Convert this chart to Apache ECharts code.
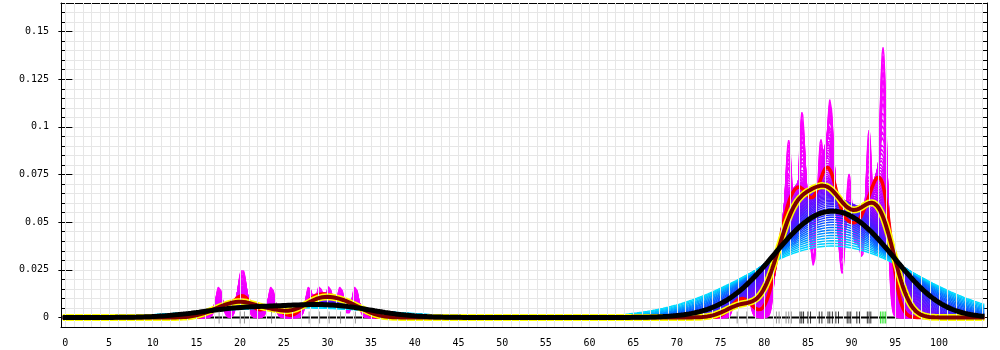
<!DOCTYPE html>
<html><head><meta charset="utf-8">
<script src="https://cdn.jsdelivr.net/npm/echarts@6/dist/echarts.min.js"></script>
<style>html,body{margin:0;padding:0;background:#fff}#c{width:1000px;height:350px}</style>
</head><body><div id="c"></div>
<script>
// ---- data ----
// observations shown in the rug, grouped by rug colour, with their relative weights
const leftObs     = [17.6, 20.0, 20.5, 23.6, 27.9, 29.1, 30.2, 31.5, 33.2];   // gray
const leftWeights = [1, 1, 1, 1, 1, 1, 1, 1, 1];
const tailObs     = [76.9, 78.0, 81.4, 81.7, 82.5, 82.8, 83.1];               // gray
const tailWeights = [1.0, 1.0, 1.2, 1.3, 2.2, 2.5, 2.3];
const coreObs     = [84.1, 84.3, 84.5, 85.0, 85.3, 86.3, 86.6, 87.3, 87.5, 87.8,
                     88.2, 88.5, 89.5, 89.7, 89.9, 90.6, 90.9, 91.8, 92.0, 92.2]; // black
const coreWeights = [2.3, 2.5, 2.2, 1.2, 1.3, 3.0, 3.0, 2.3, 3.0, 2.4,
                     1.2, 1.3, 1.7, 1.7, 1.6, 1.2, 1.3, 2.2, 2.2, 2.2];
const highObs     = [93.3, 93.5, 93.7, 93.9];                                 // green
const highWeights = [2.5, 2.7, 2.7, 2.4];
const unitMass = 0.0145;
// kernel bandwidths of the family of curves (magenta -> cyan)
const familyBandwidths = [
  0.350, 0.367, 0.384, 0.402, 0.421, 0.441, 0.462, 0.483, 0.506, 0.530,
  0.555, 0.581, 0.609, 0.638, 0.668, 0.699, 0.732, 0.767, 0.803, 0.841,
  0.881, 0.922, 0.966, 1.011, 1.059, 1.109, 1.162, 1.217, 1.274, 1.334,
  1.397, 1.463, 1.533, 1.605, 1.681, 1.760, 1.844, 1.931, 2.022, 2.118,
  2.218, 2.323, 2.432, 2.547, 2.668, 2.794, 2.926, 3.064, 3.209, 3.361,
  3.520, 3.686, 3.860, 4.043, 4.234, 4.434, 4.644, 4.863, 5.093, 5.334,
  5.586, 5.850, 6.127, 6.417, 6.720, 7.038, 7.370, 7.719, 8.084, 8.466];
const redBandwidth = 1.0;
const darkRedBandwidth = 1.7;
const blackBandwidth = 4.5;
// evaluation range of the curves
const evalStart = -0.3, evalEnd = 105.2, evalStep = 0.1;
// ticks and labels
const xTickValues = [0,5,10,15,20,25,30,35,40,45,50,55,60,65,70,75,80,85,90,95,100];
const xGridValues = [0,1,2,3,4,5,6,7,8,9,10,11,12,13,14,15,16,17,18,19,20,21,22,23,24,25,26,27,28,29,30,
  31,32,33,34,35,36,37,38,39,40,41,42,43,44,45,46,47,48,49,50,51,52,53,54,55,56,57,58,59,60,
  61,62,63,64,65,66,67,68,69,70,71,72,73,74,75,76,77,78,79,80,81,82,83,84,85,86,87,88,89,90,
  91,92,93,94,95,96,97,98,99,100,101,102,103,104,105];
const yTickValues = [0, 0.025, 0.05, 0.075, 0.1, 0.125, 0.15];
const yTickLabels = ['0', '0.025', '0.05', '0.075', '0.1', '0.125', '0.15'];

// ---- build ----
const obs = [];
[[leftObs, leftWeights], [tailObs, tailWeights], [coreObs, coreWeights], [highObs, highWeights]]
  .forEach(([vs, ws]) => vs.forEach((v, i) => obs.push({v, w: ws[i]})));
const nEval = Math.round((evalEnd - evalStart) / evalStep);
function kde(h) {
  const out = [];
  const norm = unitMass / (h * Math.sqrt(2 * Math.PI));
  for (let i = 0; i <= nEval; i++) {
    const x = evalStart + i * evalStep;
    let s = 0;
    for (const o of obs) { const z = (x - o.v) / h; s += o.w * Math.exp(-0.5 * z * z); }
    out.push([+x.toFixed(3), s * norm]);
  }
  return out;
}
const stops = [[0, [255, 0, 255]], [0.33, [220, 0, 255]], [0.5, [150, 0, 255]],
               [0.68, [90, 20, 255]], [0.83, [30, 50, 255]], [0.91, [0, 120, 255]], [1, [0, 220, 255]]];
function famColor(t) {
  for (let i = 1; i < stops.length; i++) {
    if (t <= stops[i][0]) {
      const a = stops[i - 1], b = stops[i], f = (t - a[0]) / (b[0] - a[0]);
      const c = a[1].map((v, k) => Math.round(v + (b[1][k] - v) * f));
      return 'rgb(' + c.join(',') + ')';
    }
  }
  return 'rgb(0,220,255)';
}
const series = [];
series.push({type: 'line', data: [], silent: true, z: 0,
  markLine: {silent: true, symbol: 'none', label: {show: false}, animation: false,
    lineStyle: {color: '#e6e6e6', width: 1, type: 'solid'},
    data: xGridValues.map(v => ({xAxis: v}))}});
series.push({type: 'line', data: [[evalStart, 0], [evalEnd, 0]], symbol: 'none',
  lineStyle: {color: '#000', width: 2}, z: 1, silent: true});
const hMin = Math.log(familyBandwidths[0]), hMax = Math.log(familyBandwidths[familyBandwidths.length - 1]);
familyBandwidths.forEach(h => {
  const t = (Math.log(h) - hMin) / (hMax - hMin);
  series.push({type: 'line', data: kde(h), symbol: 'none', silent: true, z: 2,
    lineStyle: {color: famColor(t), width: 1.4}});
});
series.push({type: 'line', data: kde(redBandwidth), symbol: 'none', silent: true, z: 3,
  lineStyle: {color: '#ff0000', width: 3.5}});
const dr = kde(darkRedBandwidth);
series.push({type: 'line', data: dr, symbol: 'none', silent: true, z: 4,
  lineStyle: {color: '#ffff00', width: 7}});
series.push({type: 'line', data: dr, symbol: 'none', silent: true, z: 5,
  lineStyle: {color: '#800000', width: 4}});
series.push({type: 'line', data: kde(blackBandwidth), symbol: 'none', silent: true, z: 6,
  lineStyle: {color: '#000000', width: 5}});
function rug(vals, color) {
  return {type: 'scatter', data: vals.map(v => [v, 0]), symbol: 'rect', symbolSize: [1, 12],
    itemStyle: {color: color}, silent: true, z: 7};
}
series.push(rug(leftObs, '#808080'), rug(tailObs, '#808080'), rug(coreObs, '#000000'), rug(highObs, '#00e000'));

const font = {fontFamily: 'DejaVu Sans Mono', fontSize: 10, color: '#000'};
const yMin = -0.005, yMax = 0.165, yStep = 0.005;
const option = {
  animation: false,
  backgroundColor: '#fff',
  grid: {left: 61, right: 13, top: 3, bottom: 23, containLabel: false},
  xAxis: [
    {type: 'value', min: -0.5, max: 105.5, position: 'bottom',
     axisLine: {show: true, onZero: false, lineStyle: {color: '#000', width: 1}},
     axisTick: {show: true, inside: true, length: 6, customValues: xTickValues, lineStyle: {color: '#000'}},
     axisLabel: Object.assign({customValues: xTickValues, margin: 11, formatter: v => String(v)}, font),
     splitLine: {show: false}},
    {type: 'value', min: -0.5, max: 105.5, position: 'top',
     axisLine: {show: true, onZero: false, lineStyle: {color: '#000', width: 1}},
     axisTick: {show: true, inside: true, length: 5, customValues: xTickValues, lineStyle: {color: '#000'}},
     axisLabel: {show: false}, splitLine: {show: false}}
  ],
  yAxis: [
    {type: 'value', min: yMin, max: yMax, interval: yStep, position: 'left',
     axisLine: {show: true, onZero: false, lineStyle: {color: '#000', width: 1}},
     axisTick: {show: true, inside: true, length: 4, lineStyle: {color: '#000'}},
     axisLabel: Object.assign({customValues: yTickValues, margin: 12,
       formatter: v => { const i = yTickValues.findIndex(t => Math.abs(t - v) < 1e-9); return i >= 0 ? yTickLabels[i] : ''; }}, font),
     splitLine: {show: true, lineStyle: {color: '#e6e6e6', width: 1}}},
    {type: 'value', min: yMin, max: yMax, position: 'left',
     axisLine: {show: false},
     axisTick: {show: true, inside: true, length: 7, customValues: yTickValues, lineStyle: {color: '#000'}},
     axisLabel: {show: false}, splitLine: {show: false}},
    {type: 'value', min: yMin, max: yMax, interval: yStep, position: 'right',
     axisLine: {show: true, onZero: false, lineStyle: {color: '#000', width: 1}},
     axisTick: {show: true, inside: true, length: 4, lineStyle: {color: '#000'}},
     axisLabel: {show: false}, splitLine: {show: false}},
    {type: 'value', min: yMin, max: yMax, position: 'right',
     axisLine: {show: false},
     axisTick: {show: true, inside: true, length: 7, customValues: yTickValues, lineStyle: {color: '#000'}},
     axisLabel: {show: false}, splitLine: {show: false}}
  ],
  series: series
};
const chart = echarts.init(document.getElementById('c'), null, {renderer: 'canvas'});
chart.setOption(option);
</script></body></html>
